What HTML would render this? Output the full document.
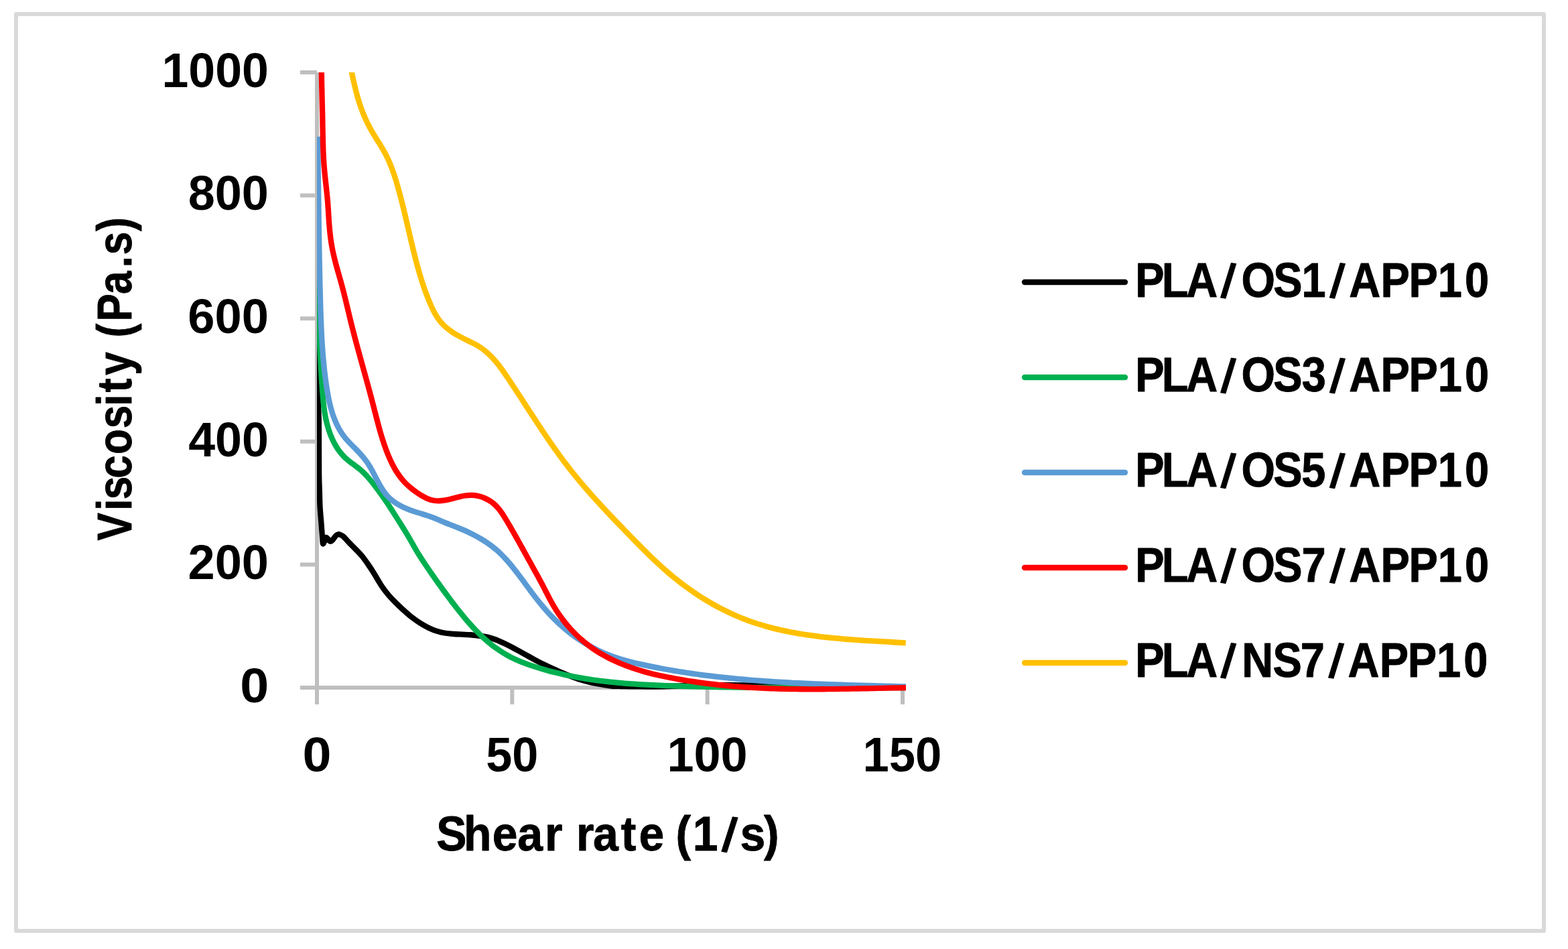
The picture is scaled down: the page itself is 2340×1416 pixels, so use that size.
<!DOCTYPE html>
<html lang="en"><head><meta charset="utf-8"><title>Viscosity vs shear rate</title>
<style>html,body{margin:0;padding:0;background:#fff;}body{width:2340px;height:1416px;overflow:hidden;}svg{display:block;}text{font-kerning:none;white-space:pre;font-family:"Liberation Sans","DejaVu Sans",sans-serif;font-weight:700;fill:#000;}</style>
</head><body>
<svg width="2340" height="1416" viewBox="0 0 2340 1416">
<rect x="0" y="0" width="2340" height="1416" fill="#ffffff"/>
<rect x="24" y="21" width="2280" height="1368" fill="none" stroke="#D9D9D9" stroke-width="6" stroke-linejoin="round"/>
<g stroke="#BFBFBF" stroke-width="6" fill="none" stroke-linecap="butt">
<line x1="473" y1="108" x2="473" y2="1051"/>
<line x1="448" y1="1026" x2="1350" y2="1026"/>
<line x1="448" y1="108.00" x2="473" y2="108.00"/>
<line x1="448" y1="291.60" x2="473" y2="291.60"/>
<line x1="448" y1="475.20" x2="473" y2="475.20"/>
<line x1="448" y1="658.80" x2="473" y2="658.80"/>
<line x1="448" y1="842.40" x2="473" y2="842.40"/>
<line x1="764.33" y1="1026" x2="764.33" y2="1051"/>
<line x1="1055.67" y1="1026" x2="1055.67" y2="1051"/>
<line x1="1347.00" y1="1026" x2="1347.00" y2="1051"/>
</g>
<defs><clipPath id="plot"><rect x="473" y="108" width="879" height="940"/></clipPath></defs>
<g clip-path="url(#plot)" fill="none" stroke-width="8.3" stroke-linejoin="round" stroke-linecap="butt">
<path stroke="#000000" d="M474.00,510.00C474.02,511.00 474.00,507.67 474.10,516.00C474.20,524.33 474.45,545.33 474.60,560.00C474.75,574.67 474.79,592.17 475.00,604.00C475.21,615.83 475.67,614.00 475.85,631.00C476.03,648.00 475.93,688.67 476.10,706.00C476.28,723.33 476.67,726.67 476.90,735.00C477.13,743.33 477.08,748.50 477.50,756.00C477.92,763.50 478.88,773.33 479.40,780.00C479.92,786.67 480.28,791.67 480.60,796.00C480.92,800.33 481.08,803.45 481.30,806.00C481.52,808.55 481.58,810.63 481.90,811.30C482.22,811.97 482.68,811.05 483.20,810.00C483.72,808.95 484.38,806.35 485.00,805.00C485.62,803.65 486.18,802.07 486.90,801.90C487.62,801.73 488.53,803.15 489.30,804.00C490.07,804.85 490.80,806.37 491.50,807.00C492.20,807.63 492.75,807.97 493.50,807.80C494.25,807.63 495.12,806.88 496.00,806.00C496.88,805.12 497.83,803.67 498.75,802.50C499.67,801.33 500.50,799.88 501.50,799.00C502.50,798.12 503.67,797.42 504.75,797.25C505.83,797.08 506.71,797.44 508.00,798.00C509.29,798.56 510.29,798.60 512.50,800.60C514.71,802.60 518.33,806.98 521.25,810.00C524.17,813.02 526.88,815.52 530.00,818.75C533.12,821.98 536.88,825.65 540.00,829.40C543.12,833.15 546.04,837.40 548.75,841.25C551.46,845.10 553.75,848.54 556.25,852.50C558.75,856.46 561.25,860.93 563.75,865.00C566.25,869.07 568.54,873.05 571.25,876.90C573.96,880.75 576.88,884.46 580.00,888.10C583.12,891.74 586.25,895.00 590.00,898.75C593.75,902.50 598.33,906.85 602.50,910.60C606.67,914.35 610.83,918.02 615.00,921.25C619.17,924.48 623.33,927.39 627.50,930.00C631.67,932.61 635.83,934.92 640.00,936.90C644.17,938.88 648.33,940.59 652.50,941.90C656.67,943.21 660.83,944.07 665.00,944.75C669.17,945.43 673.33,945.69 677.50,946.00C681.67,946.31 685.83,946.39 690.00,946.60C694.17,946.81 698.33,946.89 702.50,947.25C706.67,947.61 710.83,948.19 715.00,948.75C719.17,949.31 723.33,949.64 727.50,950.60C731.67,951.56 735.83,952.93 740.00,954.50C744.17,956.07 748.33,958.04 752.50,960.00C756.67,961.96 760.83,964.07 765.00,966.25C769.17,968.43 773.33,970.81 777.50,973.10C781.67,975.39 785.83,977.70 790.00,980.00C794.17,982.30 798.33,984.72 802.50,986.90C806.67,989.08 810.83,991.12 815.00,993.10C819.17,995.08 823.33,996.87 827.50,998.75C831.67,1000.63 835.83,1002.62 840.00,1004.40C844.17,1006.17 848.33,1007.84 852.50,1009.40C856.67,1010.96 860.83,1012.44 865.00,1013.75C869.17,1015.06 873.33,1016.21 877.50,1017.25C881.67,1018.29 885.83,1019.19 890.00,1020.00C894.17,1020.81 898.33,1021.48 902.50,1022.10C906.67,1022.73 910.83,1023.43 915.00,1023.75C919.17,1024.07 923.33,1023.91 927.50,1024.00C931.67,1024.09 933.75,1024.22 940.00,1024.30C946.25,1024.38 956.67,1024.50 965.00,1024.50C973.33,1024.50 981.67,1024.48 990.00,1024.30C998.33,1024.12 1008.00,1023.67 1015.00,1023.40C1022.00,1023.13 1025.00,1022.85 1032.00,1022.70C1039.00,1022.55 1048.67,1022.58 1057.00,1022.50C1065.33,1022.42 1073.67,1022.28 1082.00,1022.25C1090.33,1022.22 1098.67,1022.22 1107.00,1022.30C1115.33,1022.38 1124.00,1022.47 1132.00,1022.70C1140.00,1022.93 1147.67,1023.32 1155.00,1023.70C1162.33,1024.08 1168.50,1024.65 1176.00,1025.00C1183.50,1025.35 1192.67,1025.63 1200.00,1025.80C1207.33,1025.97 1206.67,1025.97 1220.00,1026.00C1233.33,1026.03 1258.00,1026.00 1280.00,1026.00C1302.00,1026.00 1340.00,1026.00 1352.00,1026.00"/>
<path stroke="#00B050" d="M474.52,385.00C474.56,386.75 474.70,392.00 474.78,395.50C474.86,399.01 474.94,402.51 475.00,406.01C475.07,409.51 475.14,413.01 475.20,416.52C475.26,420.02 475.31,423.52 475.37,427.02C475.43,430.53 475.48,434.03 475.53,437.53C475.58,441.03 475.64,444.54 475.69,448.04C475.74,451.54 475.80,455.05 475.86,458.55C475.91,462.05 475.97,465.56 476.04,469.06C476.10,472.56 476.17,476.06 476.24,479.57C476.32,483.07 476.40,486.57 476.49,490.07C476.57,493.57 476.67,497.07 476.77,500.58C476.87,504.08 476.99,507.58 477.11,511.08C477.23,514.58 477.36,518.08 477.51,521.58C477.65,525.08 477.81,528.57 477.98,532.07C478.15,535.57 478.33,539.07 478.52,542.57C478.71,546.06 478.92,549.56 479.13,553.05C479.34,556.55 479.56,560.05 479.79,563.54C480.02,567.04 480.26,570.53 480.50,574.02C480.74,577.52 480.98,581.01 481.25,584.50C481.51,587.99 481.77,591.49 482.09,594.97C482.41,598.46 482.75,601.94 483.17,605.41C483.59,608.88 484.04,612.35 484.61,615.81C485.17,619.26 485.79,622.71 486.53,626.14C487.28,629.58 488.11,633.01 489.08,636.40C490.05,639.79 491.13,643.18 492.35,646.48C493.57,649.79 494.91,653.07 496.40,656.24C497.90,659.41 499.52,662.52 501.32,665.51C503.11,668.49 505.04,671.39 507.16,674.13C509.27,676.86 511.54,679.49 514.00,681.94C516.45,684.39 519.15,686.62 521.88,688.81C524.61,691.00 527.60,692.95 530.40,695.07C533.20,697.20 536.05,699.27 538.68,701.57C541.30,703.86 543.76,706.31 546.15,708.84C548.53,711.36 550.77,714.02 552.99,716.70C555.22,719.37 557.37,722.12 559.51,724.89C561.64,727.65 563.74,730.45 565.80,733.28C567.87,736.11 569.90,738.97 571.91,741.85C573.92,744.72 575.89,747.63 577.85,750.55C579.81,753.47 581.74,756.41 583.66,759.35C585.58,762.30 587.48,765.26 589.37,768.22C591.25,771.19 593.12,774.16 594.99,777.12C596.85,780.09 598.71,783.06 600.55,786.03C602.39,789.00 604.23,791.97 606.03,794.96C607.84,797.95 609.63,800.95 611.38,803.97C613.14,806.98 614.83,810.04 616.57,813.08C618.30,816.11 619.99,819.18 621.78,822.17C623.57,825.17 625.43,828.12 627.31,831.06C629.19,834.01 631.13,836.91 633.07,839.82C635.00,842.74 636.97,845.64 638.94,848.54C640.92,851.44 642.91,854.34 644.91,857.22C646.92,860.11 648.94,862.99 650.97,865.86C653.00,868.73 655.05,871.59 657.11,874.44C659.16,877.28 661.23,880.13 663.30,882.95C665.37,885.78 667.46,888.60 669.55,891.40C671.64,894.20 673.73,896.99 675.84,899.77C677.95,902.54 680.06,905.30 682.21,908.04C684.35,910.78 686.51,913.51 688.70,916.21C690.90,918.91 693.12,921.60 695.38,924.25C697.64,926.91 699.94,929.55 702.29,932.15C704.64,934.76 707.03,937.35 709.48,939.88C711.93,942.42 714.42,944.94 716.97,947.38C719.51,949.83 722.10,952.24 724.75,954.57C727.40,956.91 730.10,959.19 732.85,961.38C735.60,963.58 738.40,965.71 741.26,967.73C744.11,969.76 747.02,971.71 749.99,973.55C752.95,975.39 755.97,977.13 759.04,978.77C762.11,980.42 765.24,981.95 768.39,983.42C771.55,984.88 774.76,986.25 777.99,987.56C781.22,988.88 784.50,990.11 787.79,991.29C791.08,992.48 794.40,993.59 797.73,994.67C801.06,995.76 804.41,996.79 807.77,997.79C811.13,998.79 814.50,999.75 817.88,1000.67C821.26,1001.60 824.65,1002.49 828.05,1003.34C831.46,1004.19 834.87,1005.01 838.29,1005.79C841.70,1006.58 845.13,1007.33 848.57,1008.04C852.00,1008.76 855.44,1009.44 858.89,1010.09C862.34,1010.74 865.79,1011.36 869.25,1011.95C872.71,1012.54 876.17,1013.10 879.64,1013.62C883.10,1014.15 886.57,1014.65 890.04,1015.12C893.52,1015.59 896.99,1016.03 900.47,1016.45C903.95,1016.87 907.43,1017.25 910.91,1017.62C914.39,1017.99 917.87,1018.33 921.36,1018.65C924.84,1018.97 928.33,1019.27 931.82,1019.55C935.31,1019.83 938.80,1020.09 942.29,1020.34C945.78,1020.58 949.28,1020.81 952.77,1021.03C956.26,1021.24 959.76,1021.44 963.26,1021.63C966.75,1021.81 970.25,1021.99 973.75,1022.16C977.24,1022.32 980.74,1022.48 984.24,1022.63C987.74,1022.78 991.24,1022.92 994.74,1023.05C998.24,1023.19 1001.74,1023.32 1005.24,1023.44C1008.74,1023.57 1012.24,1023.69 1015.74,1023.80C1019.24,1023.91 1022.74,1024.02 1026.24,1024.12C1029.74,1024.22 1033.24,1024.32 1036.74,1024.41C1040.24,1024.51 1043.74,1024.59 1047.25,1024.68C1050.75,1024.76 1054.25,1024.84 1057.75,1024.91C1061.25,1024.98 1064.76,1025.05 1068.26,1025.12C1071.76,1025.18 1075.26,1025.24 1078.77,1025.30C1082.27,1025.36 1085.77,1025.41 1089.27,1025.46C1092.78,1025.51 1096.28,1025.55 1099.78,1025.59C1103.29,1025.63 1106.79,1025.67 1110.29,1025.71C1113.80,1025.74 1117.30,1025.77 1120.80,1025.80C1124.31,1025.83 1127.81,1025.85 1131.31,1025.88C1134.82,1025.90 1138.32,1025.92 1141.83,1025.94C1145.33,1025.95 1148.83,1025.97 1152.34,1025.98C1155.84,1025.99 1159.35,1026.01 1162.85,1026.01C1166.35,1026.02 1169.86,1026.03 1173.36,1026.03C1176.87,1026.04 1180.37,1026.04 1183.87,1026.04C1187.38,1026.04 1190.88,1026.04 1194.39,1026.04C1197.89,1026.04 1201.39,1026.03 1204.90,1026.03C1208.40,1026.03 1211.91,1026.02 1215.41,1026.02C1218.91,1026.01 1222.42,1026.00 1225.92,1026.00C1229.42,1025.99 1232.93,1025.98 1236.43,1025.97C1239.93,1025.96 1243.44,1025.95 1246.94,1025.95C1250.44,1025.94 1253.95,1025.93 1257.45,1025.92C1260.95,1025.91 1264.46,1025.90 1267.96,1025.89C1271.46,1025.89 1274.96,1025.88 1278.47,1025.87C1281.97,1025.87 1285.47,1025.86 1288.97,1025.85C1292.48,1025.85 1295.98,1025.84 1299.48,1025.84C1302.98,1025.84 1306.48,1025.84 1309.98,1025.83C1313.49,1025.83 1316.99,1025.83 1320.49,1025.84C1323.99,1025.84 1327.49,1025.84 1330.99,1025.85C1334.49,1025.85 1337.99,1025.86 1341.49,1025.87C1344.99,1025.88 1350.24,1025.90 1351.99,1025.91"/>
<path stroke="#5B9BD5" d="M473.94,203.91C473.97,205.53 474.05,210.38 474.11,213.61C474.16,216.84 474.22,220.08 474.27,223.31C474.32,226.55 474.37,229.78 474.42,233.02C474.47,236.25 474.52,239.49 474.56,242.72C474.61,245.96 474.66,249.19 474.70,252.43C474.75,255.67 474.79,258.90 474.84,262.14C474.88,265.37 474.93,268.61 474.97,271.85C475.01,275.08 475.06,278.32 475.10,281.56C475.14,284.79 475.18,288.03 475.23,291.27C475.27,294.50 475.31,297.74 475.35,300.98C475.39,304.22 475.44,307.45 475.48,310.69C475.52,313.93 475.57,317.17 475.61,320.40C475.65,323.64 475.70,326.88 475.74,330.11C475.79,333.35 475.83,336.59 475.88,339.83C475.93,343.06 475.98,346.30 476.02,349.54C476.07,352.78 476.12,356.01 476.17,359.25C476.23,362.49 476.28,365.72 476.33,368.96C476.39,372.20 476.44,375.44 476.50,378.67C476.55,381.91 476.61,385.15 476.67,388.38C476.73,391.62 476.80,394.85 476.86,398.09C476.93,401.33 476.99,404.56 477.06,407.80C477.13,411.03 477.20,414.27 477.27,417.50C477.35,420.74 477.42,423.97 477.50,427.21C477.58,430.44 477.66,433.68 477.75,436.91C477.83,440.15 477.92,443.38 478.01,446.61C478.10,449.85 478.19,453.08 478.28,456.31C478.38,459.55 478.48,462.78 478.58,466.01C478.69,469.24 478.80,472.47 478.92,475.70C479.04,478.94 479.16,482.17 479.30,485.40C479.43,488.63 479.58,491.86 479.73,495.08C479.89,498.31 480.06,501.54 480.24,504.77C480.42,508.00 480.61,511.22 480.82,514.45C481.03,517.68 481.26,520.90 481.50,524.13C481.75,527.35 482.00,530.57 482.28,533.80C482.56,537.02 482.86,540.24 483.18,543.46C483.50,546.68 483.84,549.90 484.21,553.12C484.57,556.34 484.96,559.56 485.37,562.78C485.79,565.99 486.22,569.21 486.69,572.42C487.16,575.64 487.64,578.85 488.17,582.06C488.70,585.27 489.24,588.48 489.86,591.68C490.47,594.87 491.12,598.06 491.85,601.22C492.57,604.37 493.35,607.52 494.23,610.63C495.11,613.74 496.06,616.83 497.12,619.87C498.18,622.92 499.32,625.93 500.60,628.89C501.87,631.85 503.25,634.78 504.77,637.63C506.29,640.48 507.92,643.28 509.71,645.98C511.49,648.67 513.42,651.28 515.47,653.78C517.53,656.29 519.78,658.65 522.02,661.01C524.25,663.37 526.60,665.62 528.86,667.94C531.12,670.25 533.39,672.53 535.57,674.89C537.75,677.24 539.89,679.60 541.93,682.07C543.96,684.53 545.92,687.05 547.76,689.68C549.59,692.32 551.29,695.08 552.94,697.88C554.58,700.69 556.10,703.61 557.64,706.51C559.19,709.41 560.65,712.38 562.18,715.29C563.72,718.19 565.23,721.12 566.86,723.93C568.49,726.74 570.15,729.53 571.98,732.16C573.81,734.79 575.72,737.34 577.84,739.69C579.97,742.04 582.27,744.24 584.72,746.27C587.18,748.30 589.85,750.14 592.59,751.85C595.33,753.56 598.23,755.10 601.17,756.53C604.11,757.96 607.17,759.23 610.22,760.42C613.27,761.60 616.39,762.63 619.47,763.63C622.56,764.64 625.67,765.50 628.75,766.45C631.83,767.40 634.91,768.29 637.95,769.32C641.00,770.35 644.01,771.47 647.01,772.64C650.01,773.81 652.97,775.09 655.95,776.33C658.94,777.57 661.90,778.86 664.90,780.09C667.89,781.31 670.90,782.48 673.91,783.67C676.92,784.86 679.94,786.00 682.94,787.20C685.94,788.41 688.95,789.62 691.92,790.90C694.89,792.19 697.84,793.52 700.76,794.92C703.68,796.32 706.57,797.77 709.42,799.30C712.27,800.82 715.09,802.41 717.86,804.07C720.63,805.73 723.36,807.45 726.03,809.25C728.70,811.05 731.33,812.93 733.89,814.88C736.45,816.84 738.95,818.87 741.39,820.98C743.82,823.10 746.18,825.31 748.48,827.58C750.78,829.85 753.01,832.21 755.20,834.61C757.39,837.00 759.51,839.47 761.60,841.96C763.69,844.45 765.73,847.00 767.75,849.55C769.76,852.10 771.74,854.68 773.70,857.26C775.66,859.84 777.59,862.44 779.51,865.03C781.44,867.63 783.35,870.24 785.26,872.84C787.18,875.44 789.09,878.04 791.01,880.63C792.94,883.22 794.87,885.81 796.82,888.37C798.78,890.94 800.75,893.49 802.76,896.02C804.77,898.55 806.81,901.06 808.89,903.54C810.97,906.02 813.08,908.47 815.23,910.89C817.37,913.31 819.56,915.70 821.78,918.05C824.01,920.40 826.27,922.72 828.57,925.00C830.87,927.27 833.21,929.51 835.59,931.70C837.97,933.89 840.39,936.04 842.85,938.13C845.32,940.23 847.82,942.28 850.37,944.27C852.92,946.26 855.51,948.20 858.15,950.08C860.78,951.96 863.46,953.79 866.18,955.55C868.89,957.32 871.65,959.03 874.43,960.68C877.22,962.34 880.05,963.93 882.91,965.46C885.76,967.00 888.65,968.47 891.57,969.89C894.48,971.30 897.43,972.65 900.40,973.94C903.38,975.23 906.38,976.46 909.40,977.63C912.41,978.80 915.46,979.90 918.52,980.94C921.58,981.98 924.67,982.96 927.76,983.89C930.86,984.83 933.97,985.70 937.10,986.54C940.22,987.38 943.36,988.17 946.51,988.93C949.66,989.69 952.81,990.41 955.98,991.12C959.14,991.83 962.31,992.50 965.48,993.17C968.65,993.83 971.82,994.48 974.99,995.11C978.17,995.74 981.35,996.35 984.53,996.96C987.71,997.56 990.89,998.14 994.07,998.71C997.26,999.29 1000.44,999.84 1003.63,1000.39C1006.82,1000.93 1010.01,1001.46 1013.20,1001.97C1016.39,1002.49 1019.59,1002.99 1022.79,1003.48C1025.98,1003.97 1029.18,1004.44 1032.38,1004.90C1035.58,1005.36 1038.78,1005.81 1041.99,1006.25C1045.19,1006.69 1048.40,1007.11 1051.60,1007.52C1054.81,1007.94 1058.02,1008.34 1061.23,1008.72C1064.44,1009.11 1067.65,1009.49 1070.87,1009.86C1074.08,1010.22 1077.29,1010.58 1080.51,1010.92C1083.73,1011.27 1086.94,1011.60 1090.16,1011.93C1093.38,1012.25 1096.60,1012.56 1099.82,1012.87C1103.05,1013.17 1106.27,1013.47 1109.49,1013.75C1112.72,1014.04 1115.94,1014.31 1119.17,1014.58C1122.39,1014.84 1125.62,1015.10 1128.85,1015.35C1132.07,1015.60 1135.30,1015.84 1138.53,1016.07C1141.76,1016.31 1144.99,1016.53 1148.22,1016.75C1151.45,1016.97 1154.69,1017.18 1157.92,1017.38C1161.15,1017.58 1164.38,1017.78 1167.62,1017.96C1170.85,1018.15 1174.09,1018.34 1177.32,1018.51C1180.56,1018.69 1183.79,1018.86 1187.03,1019.02C1190.26,1019.18 1193.50,1019.34 1196.73,1019.49C1199.97,1019.65 1203.21,1019.79 1206.44,1019.94C1209.68,1020.08 1212.92,1020.22 1216.15,1020.35C1219.39,1020.48 1222.63,1020.61 1225.86,1020.73C1229.10,1020.86 1232.34,1020.98 1235.58,1021.09C1238.81,1021.21 1242.05,1021.32 1245.29,1021.43C1248.52,1021.54 1251.76,1021.65 1255.00,1021.75C1258.23,1021.86 1261.47,1021.96 1264.70,1022.06C1267.94,1022.16 1271.18,1022.25 1274.41,1022.35C1277.65,1022.44 1280.88,1022.53 1284.11,1022.63C1287.35,1022.72 1290.58,1022.81 1293.81,1022.90C1297.05,1022.98 1300.28,1023.07 1303.51,1023.16C1306.74,1023.25 1309.97,1023.33 1313.20,1023.42C1316.43,1023.51 1319.66,1023.59 1322.89,1023.68C1326.12,1023.77 1329.35,1023.85 1332.57,1023.94C1335.80,1024.03 1339.02,1024.12 1342.25,1024.21C1345.47,1024.30 1350.31,1024.44 1351.92,1024.48"/>
<path stroke="#FF0000" d="M479.62,80.00C479.62,81.60 479.63,86.40 479.65,89.60C479.67,92.80 479.70,96.00 479.74,99.20C479.77,102.40 479.81,105.60 479.86,108.80C479.91,112.00 479.96,115.20 480.02,118.40C480.07,121.59 480.14,124.79 480.20,127.99C480.27,131.19 480.33,134.39 480.40,137.59C480.47,140.79 480.55,143.98 480.62,147.18C480.69,150.38 480.77,153.58 480.84,156.78C480.92,159.98 480.99,163.18 481.06,166.38C481.14,169.57 481.21,172.77 481.28,175.97C481.35,179.17 481.41,182.37 481.47,185.57C481.54,188.77 481.59,191.97 481.65,195.17C481.71,198.37 481.77,201.57 481.83,204.77C481.90,207.97 481.97,211.17 482.06,214.37C482.14,217.57 482.24,220.77 482.35,223.97C482.47,227.16 482.60,230.36 482.76,233.55C482.92,236.74 483.10,239.94 483.32,243.13C483.54,246.32 483.78,249.50 484.06,252.69C484.34,255.87 484.66,259.06 484.98,262.24C485.30,265.42 485.66,268.60 486.01,271.78C486.36,274.96 486.72,278.14 487.07,281.32C487.41,284.50 487.76,287.69 488.08,290.87C488.40,294.05 488.70,297.24 488.97,300.42C489.23,303.61 489.45,306.80 489.67,309.99C489.89,313.18 490.06,316.38 490.27,319.57C490.47,322.77 490.65,325.96 490.88,329.16C491.10,332.35 491.34,335.55 491.62,338.74C491.89,341.93 492.19,345.12 492.54,348.31C492.90,351.49 493.28,354.67 493.72,357.83C494.16,361.00 494.65,364.16 495.20,367.30C495.76,370.45 496.38,373.58 497.05,376.70C497.71,379.82 498.45,382.93 499.22,386.03C499.98,389.13 500.80,392.23 501.63,395.31C502.46,398.40 503.33,401.48 504.19,404.57C505.06,407.65 505.95,410.73 506.82,413.81C507.69,416.89 508.58,419.97 509.42,423.06C510.27,426.15 511.11,429.24 511.92,432.34C512.73,435.44 513.51,438.54 514.28,441.65C515.06,444.75 515.81,447.87 516.56,450.98C517.31,454.09 518.05,457.20 518.79,460.32C519.53,463.43 520.27,466.54 521.01,469.66C521.76,472.77 522.51,475.88 523.27,478.98C524.03,482.09 524.81,485.19 525.59,488.29C526.38,491.40 527.17,494.49 527.98,497.59C528.78,500.68 529.59,503.77 530.41,506.86C531.23,509.95 532.06,513.04 532.90,516.13C533.73,519.22 534.57,522.30 535.42,525.39C536.26,528.47 537.11,531.55 537.96,534.64C538.81,537.72 539.66,540.80 540.52,543.88C541.37,546.97 542.23,550.05 543.08,553.13C543.94,556.21 544.80,559.29 545.65,562.38C546.50,565.46 547.35,568.55 548.20,571.63C549.04,574.72 549.89,577.81 550.72,580.90C551.56,583.99 552.39,587.08 553.22,590.17C554.04,593.26 554.86,596.36 555.67,599.46C556.48,602.56 557.28,605.66 558.08,608.76C558.87,611.87 559.66,614.97 560.45,618.08C561.25,621.18 562.04,624.28 562.85,627.38C563.66,630.48 564.48,633.58 565.32,636.66C566.17,639.75 567.02,642.83 567.92,645.90C568.82,648.97 569.73,652.03 570.70,655.08C571.66,658.12 572.65,661.16 573.70,664.18C574.75,667.19 575.84,670.20 576.99,673.18C578.14,676.16 579.34,679.14 580.61,682.07C581.89,685.01 583.21,687.94 584.63,690.81C586.05,693.68 587.53,696.53 589.13,699.30C590.72,702.07 592.39,704.79 594.19,707.42C595.99,710.04 597.89,712.61 599.92,715.06C601.96,717.51 604.12,719.86 606.40,722.11C608.67,724.36 611.09,726.50 613.58,728.55C616.07,730.60 618.68,732.54 621.33,734.40C623.99,736.26 626.73,738.08 629.52,739.70C632.31,741.32 635.15,742.95 638.08,744.12C641.01,745.30 644.05,746.20 647.11,746.73C650.17,747.25 653.32,747.38 656.44,747.27C659.56,747.17 662.70,746.65 665.85,746.09C668.99,745.52 672.14,744.66 675.29,743.89C678.45,743.11 681.61,742.17 684.77,741.43C687.94,740.70 691.11,739.92 694.28,739.49C697.45,739.05 700.64,738.74 703.81,738.81C706.97,738.89 710.17,739.28 713.27,739.95C716.38,740.62 719.47,741.61 722.42,742.83C725.36,744.05 728.26,745.56 730.95,747.27C733.64,748.98 736.22,750.95 738.56,753.09C740.91,755.23 743.03,757.62 745.03,760.10C747.04,762.57 748.81,765.26 750.58,767.93C752.34,770.61 753.97,773.41 755.63,776.17C757.29,778.93 758.92,781.70 760.54,784.47C762.16,787.24 763.77,790.02 765.36,792.80C766.95,795.58 768.53,798.36 770.11,801.14C771.68,803.93 773.24,806.71 774.80,809.50C776.35,812.29 777.90,815.08 779.45,817.87C781.00,820.67 782.54,823.46 784.08,826.26C785.62,829.05 787.16,831.85 788.70,834.65C790.25,837.45 791.79,840.25 793.34,843.05C794.89,845.85 796.44,848.65 797.99,851.45C799.54,854.26 801.09,857.06 802.62,859.87C804.16,862.69 805.69,865.50 807.20,868.33C808.71,871.15 810.20,873.99 811.68,876.83C813.16,879.67 814.60,882.52 816.07,885.36C817.54,888.20 818.99,891.04 820.50,893.86C822.01,896.67 823.53,899.48 825.12,902.25C826.71,905.01 828.35,907.76 830.07,910.46C831.78,913.15 833.56,915.82 835.40,918.43C837.24,921.05 839.14,923.63 841.11,926.16C843.07,928.69 845.10,931.18 847.18,933.62C849.26,936.05 851.40,938.44 853.60,940.78C855.79,943.11 858.05,945.40 860.35,947.62C862.65,949.85 865.01,952.02 867.42,954.13C869.83,956.24 872.29,958.30 874.79,960.29C877.30,962.27 879.85,964.20 882.45,966.06C885.05,967.92 887.70,969.71 890.38,971.44C893.07,973.17 895.80,974.83 898.56,976.43C901.33,978.03 904.13,979.57 906.96,981.05C909.80,982.53 912.67,983.95 915.56,985.32C918.46,986.68 921.38,987.99 924.33,989.24C927.28,990.50 930.25,991.70 933.24,992.85C936.23,994.00 939.25,995.09 942.27,996.15C945.29,997.20 948.34,998.20 951.39,999.16C954.44,1000.11 957.51,1001.03 960.58,1001.90C963.66,1002.77 966.75,1003.60 969.84,1004.40C972.94,1005.20 976.04,1005.96 979.16,1006.69C982.27,1007.42 985.39,1008.11 988.52,1008.79C991.65,1009.46 994.78,1010.10 997.92,1010.72C1001.06,1011.34 1004.21,1011.93 1007.35,1012.51C1010.50,1013.09 1013.65,1013.64 1016.81,1014.19C1019.96,1014.73 1023.12,1015.25 1026.28,1015.75C1029.44,1016.26 1032.61,1016.75 1035.77,1017.22C1038.94,1017.69 1042.11,1018.14 1045.28,1018.57C1048.45,1019.01 1051.62,1019.43 1054.80,1019.83C1057.97,1020.23 1061.15,1020.62 1064.33,1020.98C1067.51,1021.35 1070.69,1021.71 1073.87,1022.04C1077.06,1022.38 1080.24,1022.70 1083.42,1023.00C1086.61,1023.31 1089.80,1023.60 1092.98,1023.87C1096.17,1024.15 1099.36,1024.41 1102.55,1024.65C1105.74,1024.89 1108.93,1025.12 1112.12,1025.34C1115.31,1025.55 1118.50,1025.76 1121.69,1025.94C1124.88,1026.13 1128.08,1026.31 1131.27,1026.47C1134.46,1026.63 1137.66,1026.78 1140.85,1026.92C1144.05,1027.06 1147.24,1027.18 1150.44,1027.30C1153.64,1027.41 1156.83,1027.51 1160.03,1027.61C1163.23,1027.70 1166.42,1027.78 1169.62,1027.86C1172.82,1027.93 1176.02,1027.99 1179.22,1028.05C1182.42,1028.10 1185.62,1028.14 1188.82,1028.18C1192.02,1028.22 1195.22,1028.24 1198.42,1028.26C1201.62,1028.28 1204.82,1028.30 1208.02,1028.30C1211.22,1028.31 1214.42,1028.30 1217.62,1028.30C1220.82,1028.29 1224.02,1028.27 1227.22,1028.25C1230.42,1028.23 1233.62,1028.21 1236.83,1028.18C1240.03,1028.15 1243.23,1028.11 1246.43,1028.07C1249.63,1028.03 1252.83,1027.99 1256.03,1027.94C1259.23,1027.89 1262.44,1027.84 1265.64,1027.79C1268.84,1027.73 1272.04,1027.67 1275.24,1027.61C1278.44,1027.56 1281.64,1027.49 1284.84,1027.43C1288.04,1027.37 1291.24,1027.30 1294.44,1027.24C1297.64,1027.17 1300.84,1027.11 1304.04,1027.04C1307.24,1026.97 1310.43,1026.91 1313.63,1026.84C1316.83,1026.78 1320.03,1026.71 1323.22,1026.65C1326.42,1026.58 1329.62,1026.52 1332.81,1026.46C1336.01,1026.40 1339.21,1026.34 1342.40,1026.28C1345.59,1026.23 1350.39,1026.15 1351.98,1026.12"/>
<path stroke="#FFC000" d="M518.52,80.00C518.88,81.49 519.97,85.93 520.67,88.91C521.36,91.88 522.02,94.88 522.68,97.87C523.35,100.87 523.99,103.87 524.64,106.88C525.29,109.88 525.93,112.89 526.59,115.89C527.25,118.89 527.91,121.90 528.61,124.90C529.30,127.89 530.01,130.88 530.76,133.86C531.51,136.84 532.28,139.81 533.10,142.77C533.93,145.72 534.78,148.67 535.70,151.59C536.62,154.51 537.59,157.42 538.62,160.30C539.64,163.19 540.72,166.05 541.86,168.89C543.00,171.73 544.19,174.55 545.45,177.34C546.70,180.13 548.01,182.89 549.39,185.63C550.77,188.37 552.21,191.07 553.71,193.75C555.20,196.43 556.78,199.07 558.37,201.70C559.96,204.34 561.61,206.94 563.23,209.56C564.85,212.18 566.50,214.78 568.09,217.41C569.69,220.03 571.28,222.66 572.78,225.33C574.29,228.00 575.75,230.69 577.11,233.42C578.48,236.16 579.76,238.93 580.98,241.73C582.20,244.53 583.34,247.37 584.44,250.22C585.53,253.08 586.56,255.96 587.55,258.86C588.54,261.76 589.48,264.68 590.39,267.61C591.31,270.54 592.17,273.48 593.03,276.43C593.88,279.38 594.71,282.34 595.52,285.30C596.34,288.26 597.13,291.22 597.90,294.19C598.68,297.16 599.44,300.13 600.19,303.10C600.94,306.08 601.67,309.06 602.39,312.04C603.12,315.02 603.83,318.00 604.54,320.99C605.25,323.97 605.95,326.96 606.65,329.95C607.35,332.93 608.04,335.92 608.73,338.91C609.43,341.90 610.12,344.88 610.81,347.87C611.51,350.86 612.20,353.84 612.90,356.83C613.60,359.81 614.31,362.80 615.02,365.78C615.74,368.76 616.46,371.74 617.19,374.71C617.93,377.68 618.67,380.66 619.43,383.62C620.19,386.59 620.96,389.55 621.76,392.51C622.55,395.47 623.35,398.42 624.18,401.37C625.01,404.32 625.86,407.26 626.73,410.20C627.61,413.13 628.50,416.06 629.43,418.98C630.36,421.91 631.31,424.82 632.30,427.72C633.29,430.63 634.31,433.53 635.38,436.41C636.44,439.30 637.54,442.17 638.69,445.04C639.83,447.91 641.01,450.77 642.25,453.60C643.49,456.44 644.76,459.30 646.13,462.06C647.50,464.83 648.92,467.59 650.49,470.21C652.06,472.83 653.71,475.40 655.54,477.79C657.37,480.19 659.36,482.45 661.47,484.59C663.58,486.72 665.86,488.71 668.22,490.60C670.58,492.49 673.07,494.26 675.63,495.95C678.19,497.64 680.85,499.22 683.55,500.75C686.25,502.27 689.05,503.70 691.83,505.11C694.62,506.53 697.48,507.84 700.27,509.23C703.06,510.62 705.88,511.97 708.58,513.45C711.29,514.93 713.96,516.45 716.49,518.12C719.03,519.79 721.46,521.59 723.80,523.48C726.14,525.37 728.38,527.39 730.55,529.48C732.72,531.56 734.80,533.76 736.83,536.01C738.85,538.25 740.80,540.59 742.71,542.97C744.62,545.35 746.47,547.80 748.29,550.27C750.11,552.75 751.88,555.28 753.64,557.81C755.39,560.35 757.11,562.92 758.84,565.49C760.56,568.06 762.26,570.64 763.97,573.21C765.67,575.79 767.37,578.37 769.06,580.95C770.75,583.53 772.44,586.11 774.12,588.69C775.80,591.27 777.48,593.85 779.16,596.43C780.84,599.02 782.51,601.60 784.18,604.18C785.86,606.75 787.53,609.33 789.20,611.91C790.88,614.48 792.55,617.06 794.23,619.63C795.91,622.20 797.58,624.77 799.27,627.33C800.95,629.89 802.63,632.45 804.33,635.01C806.02,637.56 807.71,640.11 809.41,642.66C811.12,645.20 812.83,647.74 814.54,650.28C816.26,652.81 817.98,655.33 819.72,657.85C821.45,660.37 823.19,662.88 824.95,665.39C826.70,667.89 828.47,670.39 830.25,672.87C832.02,675.36 833.81,677.84 835.62,680.31C837.42,682.78 839.24,685.23 841.07,687.68C842.90,690.13 844.75,692.57 846.61,694.99C848.48,697.42 850.36,699.83 852.26,702.23C854.15,704.64 856.07,707.03 858.00,709.41C859.93,711.78 861.88,714.15 863.84,716.51C865.81,718.87 867.78,721.21 869.78,723.55C871.77,725.89 873.77,728.21 875.79,730.53C877.80,732.85 879.83,735.16 881.87,737.46C883.91,739.76 885.97,742.05 888.03,744.33C890.09,746.62 892.16,748.89 894.24,751.16C896.32,753.43 898.41,755.69 900.50,757.94C902.60,760.20 904.70,762.44 906.81,764.69C908.91,766.93 911.03,769.16 913.15,771.39C915.27,773.62 917.39,775.85 919.52,778.07C921.65,780.29 923.78,782.50 925.91,784.72C928.05,786.93 930.18,789.14 932.32,791.34C934.46,793.55 936.59,795.75 938.73,797.94C940.87,800.14 943.00,802.34 945.14,804.53C947.28,806.72 949.42,808.91 951.57,811.09C953.71,813.27 955.86,815.45 958.01,817.61C960.17,819.78 962.33,821.94 964.50,824.09C966.67,826.23 968.85,828.37 971.05,830.49C973.24,832.62 975.45,834.73 977.67,836.83C979.89,838.92 982.12,841.00 984.37,843.07C986.63,845.13 988.90,847.18 991.19,849.21C993.48,851.24 995.79,853.25 998.12,855.23C1000.46,857.22 1002.81,859.19 1005.19,861.13C1007.57,863.07 1009.96,865.00 1012.39,866.89C1014.81,868.79 1017.25,870.66 1019.71,872.51C1022.17,874.36 1024.65,876.18 1027.16,877.98C1029.66,879.78 1032.18,881.55 1034.72,883.29C1037.26,885.03 1039.82,886.74 1042.40,888.43C1044.98,890.11 1047.58,891.77 1050.20,893.39C1052.81,895.01 1055.45,896.61 1058.10,898.17C1060.75,899.73 1063.42,901.26 1066.11,902.75C1068.79,904.25 1071.50,905.71 1074.21,907.14C1076.93,908.57 1079.67,909.96 1082.42,911.32C1085.17,912.68 1087.94,914.00 1090.72,915.28C1093.50,916.56 1096.29,917.81 1099.10,919.02C1101.91,920.22 1104.74,921.39 1107.58,922.52C1110.42,923.65 1113.27,924.73 1116.13,925.78C1119.00,926.83 1121.88,927.84 1124.77,928.82C1127.66,929.79 1130.56,930.73 1133.47,931.63C1136.38,932.53 1139.31,933.40 1142.24,934.23C1145.18,935.07 1148.13,935.87 1151.08,936.63C1154.04,937.40 1157.00,938.14 1159.98,938.85C1162.95,939.55 1165.93,940.23 1168.92,940.88C1171.92,941.53 1174.91,942.14 1177.92,942.74C1180.93,943.33 1183.94,943.90 1186.96,944.44C1189.98,944.98 1193.01,945.50 1196.04,945.99C1199.07,946.48 1202.11,946.95 1205.15,947.40C1208.20,947.85 1211.25,948.28 1214.30,948.69C1217.35,949.09 1220.41,949.48 1223.46,949.85C1226.52,950.22 1229.59,950.57 1232.65,950.91C1235.72,951.24 1238.79,951.56 1241.85,951.86C1244.92,952.17 1248.00,952.45 1251.07,952.73C1254.14,953.01 1257.21,953.27 1260.28,953.52C1263.36,953.77 1266.43,954.01 1269.50,954.24C1272.57,954.47 1275.65,954.69 1278.72,954.90C1281.79,955.12 1284.86,955.32 1287.92,955.52C1290.99,955.72 1294.05,955.91 1297.11,956.10C1300.17,956.29 1303.23,956.47 1306.28,956.65C1309.34,956.83 1312.39,957.01 1315.43,957.18C1318.48,957.36 1321.52,957.53 1324.55,957.71C1327.59,957.89 1330.62,958.06 1333.64,958.24C1336.66,958.42 1339.68,958.60 1342.69,958.78C1345.70,958.97 1350.20,959.25 1351.70,959.35"/>
</g>
<g fill="none" stroke-width="8.3" stroke-linecap="round">
<line x1="1529" y1="421" x2="1679" y2="421" stroke="#000000"/>
<line x1="1529" y1="563" x2="1679" y2="563" stroke="#00B050"/>
<line x1="1529" y1="705" x2="1679" y2="705" stroke="#5B9BD5"/>
<line x1="1529" y1="847" x2="1679" y2="847" stroke="#FF0000"/>
<line x1="1529" y1="989" x2="1679" y2="989" stroke="#FFC000"/>
</g>
<text x="241.49" y="129.70" font-size="72.00" text-anchor="start" textLength="159.45" lengthAdjust="spacingAndGlyphs">1000</text>
<text x="280.71" y="313.30" font-size="72.00" text-anchor="start" textLength="120.24" lengthAdjust="spacingAndGlyphs">800</text>
<text x="280.35" y="496.90" font-size="72.00" text-anchor="start" textLength="120.61" lengthAdjust="spacingAndGlyphs">600</text>
<text x="281.16" y="680.50" font-size="72.00" text-anchor="start" textLength="119.78" lengthAdjust="spacingAndGlyphs">400</text>
<text x="280.50" y="864.10" font-size="72.00" text-anchor="start" textLength="120.46" lengthAdjust="spacingAndGlyphs">200</text>
<text x="358.19" y="1047.70" font-size="72.00" text-anchor="start" textLength="42.98" lengthAdjust="spacingAndGlyphs">0</text>
<text x="451.44" y="1150.50" font-size="72.00" text-anchor="start" textLength="42.98" lengthAdjust="spacingAndGlyphs">0</text>
<text x="725.34" y="1150.50" font-size="72.00" text-anchor="start" textLength="78.04" lengthAdjust="spacingAndGlyphs">50</text>
<text x="995.47" y="1150.50" font-size="72.00" text-anchor="start" textLength="119.98" lengthAdjust="spacingAndGlyphs">100</text>
<text x="1287.55" y="1150.50" font-size="72.00" text-anchor="start" textLength="117.85" lengthAdjust="spacingAndGlyphs">150</text>
<text transform="translate(0.00,1269.00) scale(0.9423,1)" x="691.01 734.51 779.67 819.47 862.76 890.78 912.56 939.27 983.40 1011.80 1051.84 1070.30 1096.93 1142.29 1172.02 1209.78" y="0" rotate="0 0 0 0 0 0 0 0 0 0 0 0 0 8 0 0" font-size="72.00" stroke="#000" stroke-width="0.9" stroke-linejoin="round">Shear rate (1/s)</text>
<text transform="translate(196.40,808.10) rotate(-90) scale(0.8618,1)" x="1.75 53.85 72.90 109.41 150.96 195.90 234.70 258.49 288.09 328.13 353.57 381.20 428.31 474.46 496.53 537.49" y="0" font-size="72.00" stroke="#000" stroke-width="0.9" stroke-linejoin="round">Viscosity (Pa.s)</text>
<text transform="translate(0.00,442.60) scale(0.9029,1)" x="1876.50 1920.35 1960.75 2016.88 2051.63 2104.60 2151.34 2197.14 2229.70 2282.15 2328.58 2376.46 2421.05" y="0" rotate="0 0 0 8 0 0 0 8 0 0 0 0 0" font-size="72.00" stroke="#000" stroke-width="0.9" stroke-linejoin="round">PLA/OS1/APP10</text>
<text transform="translate(0.00,584.35) scale(0.9029,1)" x="1876.50 1920.35 1960.75 2016.88 2051.63 2104.60 2151.78 2197.14 2229.70 2282.15 2328.58 2376.46 2421.05" y="0" rotate="0 0 0 8 0 0 0 8 0 0 0 0 0" font-size="72.00" stroke="#000" stroke-width="0.9" stroke-linejoin="round">PLA/OS3/APP10</text>
<text transform="translate(0.00,726.10) scale(0.9029,1)" x="1876.50 1920.35 1960.75 2016.88 2051.63 2104.60 2151.20 2197.14 2229.70 2282.15 2328.58 2376.46 2421.05" y="0" rotate="0 0 0 8 0 0 0 8 0 0 0 0 0" font-size="72.00" stroke="#000" stroke-width="0.9" stroke-linejoin="round">PLA/OS5/APP10</text>
<text transform="translate(0.00,867.85) scale(0.9029,1)" x="1876.50 1920.35 1960.75 2016.88 2051.63 2104.60 2151.34 2197.14 2229.70 2282.15 2328.58 2376.46 2421.05" y="0" rotate="0 0 0 8 0 0 0 8 0 0 0 0 0" font-size="72.00" stroke="#000" stroke-width="0.9" stroke-linejoin="round">PLA/OS7/APP10</text>
<text transform="translate(0.00,1009.60) scale(0.9029,1)" x="1876.50 1920.35 1960.75 2016.88 2052.56 2103.72 2149.46 2195.17 2227.70 2280.16 2326.59 2374.46 2419.06" y="0" rotate="0 0 0 8 0 0 0 8 0 0 0 0 0" font-size="72.00" stroke="#000" stroke-width="0.9" stroke-linejoin="round">PLA/NS7/APP10</text>
</svg></body></html>
